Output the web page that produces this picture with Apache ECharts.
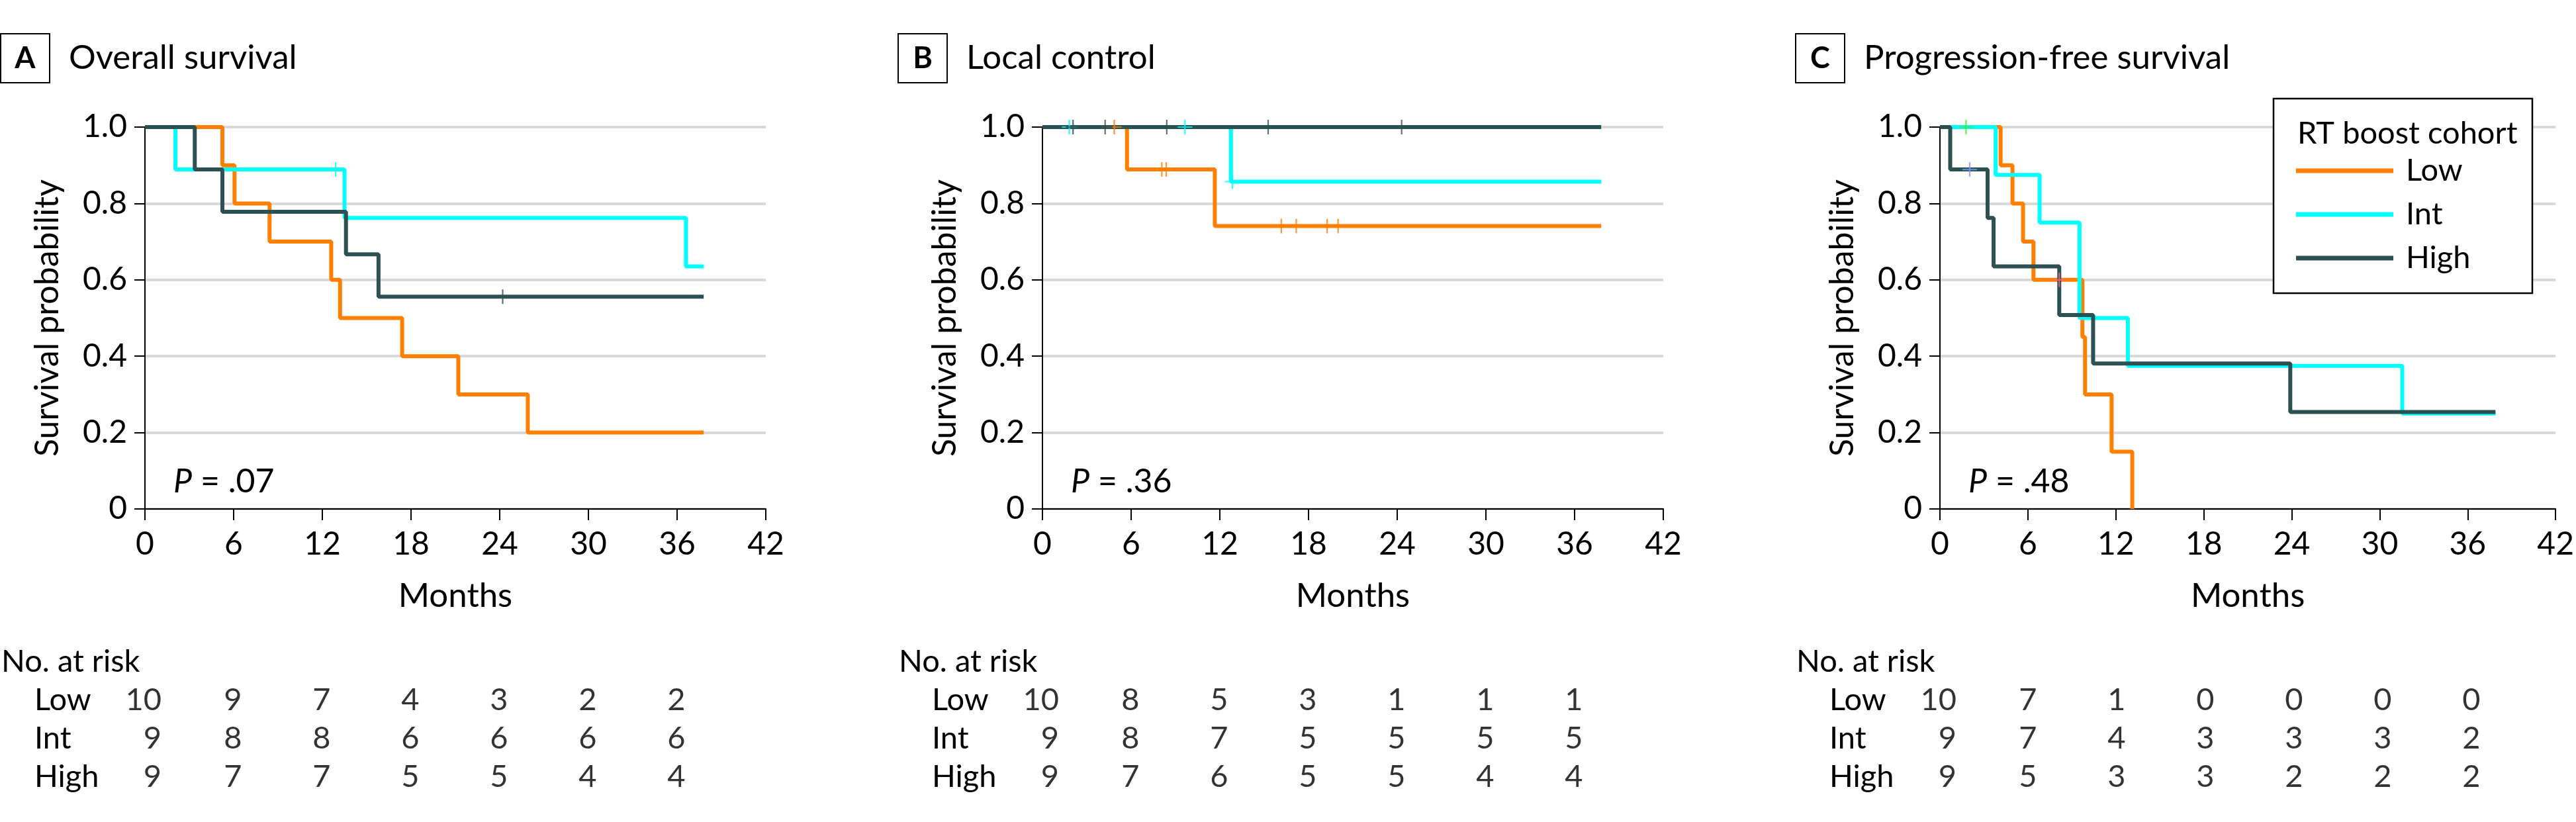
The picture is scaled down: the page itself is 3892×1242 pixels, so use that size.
<!DOCTYPE html>
<html>
<head>
<meta charset="utf-8">
<script src="https://cdn.jsdelivr.net/npm/echarts@6/dist/echarts.min.js"></script>
<style>
html, body { margin: 0; padding: 0; background: #fff; }
#main { width: 3892px; height: 1242px; }
</style>
</head>
<body>
<div id="main"></div>
<script>
// panel texts
var panelLetters = ['A', 'B', 'C']
var panelTitles = ['Overall survival', 'Local control', 'Progression-free survival']
var pValues = ['.07', '.36', '.48']
var groups = ['Low', 'Int', 'High']
var riskTimes = [0, 6, 12, 18, 24, 30, 36]

// A: overall survival, [month, survival]
var osLow = [[0, 1], [5.24, 0.9], [6.06, 0.8], [8.43, 0.7], [12.6, 0.6], [13.2, 0.5], [17.4, 0.4], [21.2, 0.3], [25.9, 0.2], [37.8, 0.2]]
var osInt = [[0, 1], [2.06, 0.889], [13.5, 0.762], [36.6, 0.635], [37.8, 0.635]]
var osHigh = [[0, 1], [3.37, 0.889], [5.24, 0.778], [13.6, 0.667], [15.8, 0.556], [37.8, 0.556]]
var osLowCens = []
var osIntCens = [[12.9, 0.889]]
var osHighCens = [[24.2, 0.556]]
var osRiskLow = [10, 9, 7, 4, 3, 2, 2]
var osRiskInt = [9, 8, 8, 6, 6, 6, 6]
var osRiskHigh = [9, 7, 7, 5, 5, 4, 4]

// B: local control
var lcLow = [[0, 1], [5.72, 0.889], [11.66, 0.741], [37.8, 0.741]]
var lcInt = [[0, 1], [12.75, 0.857], [37.8, 0.857]]
var lcHigh = [[0, 1], [37.8, 1]]
var lcLowCens = [[4.86, 1], [8.08, 0.889], [8.38, 0.889], [16.16, 0.741], [17.17, 0.741], [19.26, 0.741], [20.0, 0.741]]
var lcIntCens = [[1.82, 1], [9.64, 1], [12.85, 0.857]]
var lcHighCens = [[2.07, 1], [4.24, 1], [8.41, 1], [15.27, 1], [24.3, 1]]
var lcRiskLow = [10, 8, 5, 3, 1, 1, 1]
var lcRiskInt = [9, 8, 7, 5, 5, 5, 5]
var lcRiskHigh = [9, 7, 6, 5, 5, 4, 4]

// C: progression-free survival
var pfsLow = [[0, 1], [4.14, 0.9], [4.95, 0.8], [5.67, 0.7], [6.38, 0.6], [9.72, 0.45], [9.9, 0.3], [11.71, 0.15], [13.12, 0]]
var pfsInt = [[0, 1], [3.8, 0.875], [6.8, 0.75], [9.52, 0.5], [12.82, 0.375], [31.54, 0.25], [37.9, 0.25]]
var pfsHigh = [[0, 1], [0.7, 0.889], [3.25, 0.762], [3.66, 0.635], [8.14, 0.508], [10.45, 0.381], [23.9, 0.254], [37.9, 0.254]]
var pfsCens = [[1.78, 1], [2.03, 0.889], [8.14, 0.6]]
var pfsRiskLow = [10, 7, 1, 0, 0, 0, 0]
var pfsRiskInt = [9, 7, 4, 3, 3, 3, 2]
var pfsRiskHigh = [9, 5, 3, 3, 2, 2, 2]

var curves = [[osLow, osInt, osHigh], [lcLow, lcInt, lcHigh], [pfsLow, pfsInt, pfsHigh]]
var censors = [[osLowCens, osIntCens, osHighCens], [lcLowCens, lcIntCens, lcHighCens], [[], [], []]]
var risks = [[osRiskLow, osRiskInt, osRiskHigh], [lcRiskLow, lcRiskInt, lcRiskHigh], [pfsRiskLow, pfsRiskInt, pfsRiskHigh]]

// styles
var colors = ['#ff8000', '#00ffff', '#2d5153']
var pfsCensColors = ['#4fe61a', '#6f9fff', '#ff6680']
var FONT = 'Lato, "Liberation Sans", sans-serif'
var plusPath = 'path://M9,0H11V20H9Z M0,9H20V11H0Z'

var plotLeft = [219, 1575, 2931]
var plotW = 938, plotTop = 192, plotH = 577
var riskTop = 1029, riskH = 174

var myChart = echarts.init(document.getElementById('main'))

var grid = [], xAxis = [], yAxis = [], series = [], graphic = []

for (var i = 0; i < 3; i++) {
	var pg = 2 * i      // survival plot grid / axes
	var rg = 2 * i + 1  // number at risk grid / axes

	grid.push({ left: plotLeft[i], top: plotTop, width: plotW, height: plotH })
	xAxis.push({
		type: 'value', gridIndex: pg, min: 0, max: 42, interval: 6,
		name: 'Months', nameLocation: 'middle', nameGap: 106,
		nameTextStyle: { fontSize: 51, fontFamily: FONT, color: '#000' },
		axisLine: { lineStyle: { color: '#000', width: 2 } },
		axisTick: { length: 17, lineStyle: { color: '#000', width: 2 } },
		axisLabel: { fontSize: 48, fontFamily: FONT, color: '#000', margin: 30 },
		splitLine: { show: false }
	})
	yAxis.push({
		type: 'value', gridIndex: pg, min: 0, max: 1, interval: 0.2,
		name: 'Survival probability', nameLocation: 'middle', nameGap: 122,
		nameTextStyle: { fontSize: 50, fontFamily: FONT, color: '#000' },
		axisLine: { show: true, lineStyle: { color: '#000', width: 2 } },
		axisTick: { show: true, length: 16, lineStyle: { color: '#000', width: 2 } },
		axisLabel: {
			fontSize: 48, fontFamily: FONT, color: '#000', margin: 27,
			formatter: function (v) { return v === 0 ? '0' : v.toFixed(1) }
		},
		splitLine: { show: true, lineStyle: { color: '#d9d9d9', width: 4 } }
	})

	grid.push({ left: plotLeft[i], top: riskTop, width: plotW, height: riskH })
	xAxis.push({ type: 'value', gridIndex: rg, min: 0, max: 42, show: false })
	yAxis.push({
		type: 'category', gridIndex: rg, data: groups, inverse: true,
		axisLine: { show: false }, axisTick: { show: false }, splitLine: { show: false },
		axisLabel: { interval: 0, align: 'left', margin: 167, fontSize: 47, fontFamily: FONT, color: '#000' }
	})

	for (var g = 0; g < 3; g++) {
		series.push({
			name: groups[g], type: 'line', step: 'end',
			xAxisIndex: pg, yAxisIndex: pg,
			data: curves[i][g],
			symbol: 'none', showSymbol: false,
			lineStyle: { color: colors[g], width: 6 },
			itemStyle: { color: colors[g] },
			z: 2 + g
		})
		if (censors[i][g].length) {
			series.push({
				type: 'scatter', xAxisIndex: pg, yAxisIndex: pg,
				data: censors[i][g], symbol: plusPath, symbolSize: 22,
				itemStyle: { color: colors[g] }, z: 6
			})
		}
	}
	// panel C censor marks have their own colours
	if (i === 2) {
		series.push({
			type: 'scatter', xAxisIndex: pg, yAxisIndex: pg,
			data: pfsCens.map(function (d, k) { return { value: d, itemStyle: { color: pfsCensColors[k] } } }),
			symbol: plusPath, symbolSize: 22, z: 6
		})
	}

	// number at risk table
	var riskData = []
	for (var c = 0; c < riskTimes.length; c++) {
		var widest = 1
		for (var g2 = 0; g2 < 3; g2++) widest = Math.max(widest, String(risks[i][g2][c]).length)
		for (var g3 = 0; g3 < 3; g3++) {
			riskData.push({
				value: [riskTimes[c], groups[g3], risks[i][g3][c]],
				label: { offset: [widest * 12.5, 0] }
			})
		}
	}
	series.push({
		type: 'scatter', xAxisIndex: rg, yAxisIndex: rg,
		data: riskData, symbolSize: 0,
		label: {
			show: true, position: 'inside', align: 'right',
			fontSize: 47, fontFamily: FONT, color: '#000',
			formatter: function (p) { return p.value[2] }
		}
	})

	// panel heading, p value, table heading
	var L = plotLeft[i]
	graphic.push({
		type: 'rect', shape: { x: L - 218, y: 51, width: 74, height: 74 },
		style: { fill: 'none', stroke: '#000', lineWidth: 2 }
	})
	graphic.push({
		type: 'text', x: L - 181, y: 88,
		style: { text: panelLetters[i], fontSize: 45, fontWeight: 'bold', fontFamily: FONT, fill: '#000', align: 'center', verticalAlign: 'middle' }
	})
	graphic.push({
		type: 'text', x: L - 115, y: 88,
		style: { text: panelTitles[i], fontSize: 51, fontFamily: FONT, fill: '#000', align: 'left', verticalAlign: 'middle' }
	})
	graphic.push({
		type: 'text', x: L + 43, y: 728,
		style: {
			text: '{i|P} = ' + pValues[i], fontSize: 50, fontFamily: FONT, fill: '#000', align: 'left', verticalAlign: 'middle',
			rich: { i: { fontStyle: 'italic', fontSize: 50, fontFamily: FONT } }
		}
	})
	graphic.push({
		type: 'text', x: L - 217, y: 1000,
		style: { text: 'No. at risk', fontSize: 47, fontFamily: FONT, fill: '#000', align: 'left', verticalAlign: 'middle' }
	})
}

// legend frame and title
graphic.push({
	type: 'rect', shape: { x: 3435, y: 149, width: 391, height: 294 },
	style: { fill: '#fff', stroke: '#000', lineWidth: 2.5 }, z: 10
})
graphic.push({
	type: 'text', x: 3471, y: 202, z: 11,
	style: { text: 'RT boost cohort', fontSize: 47, fontFamily: FONT, fill: '#000', align: 'left', verticalAlign: 'middle' }
})

var option = {
	animation: false,
	backgroundColor: '#fff',
	grid: grid,
	xAxis: xAxis,
	yAxis: yAxis,
	legend: {
		data: groups, selectedMode: false, orient: 'vertical',
		left: 3469, top: 233, padding: 0, z: 12,
		icon: 'rect', itemWidth: 147, itemHeight: 7, itemGap: 16,
		textStyle: { fontSize: 47, fontFamily: FONT, color: '#000', lineHeight: 50, padding: [0, 0, 0, 14] }
	},
	graphic: graphic,
	series: series
}

myChart.setOption(option)
</script>
</body>
</html>
